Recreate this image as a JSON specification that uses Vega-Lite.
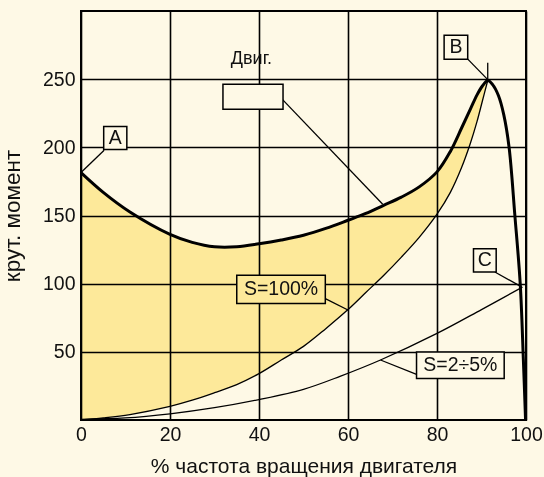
{
  "$schema": "https://vega.github.io/schema/vega-lite/v6.json",
  "width": 445,
  "height": 409,
  "autosize": {"type": "none"},
  "padding": {"left": 81, "top": 11, "right": 18, "bottom": 57},
  "background": "#fef9e6",
  "config": {
    "view": {"stroke": "black", "strokeWidth": 2},
    "font": "Liberation Sans",
    "axis": {
      "labelFont": "Liberation Sans",
      "labelFontSize": 19.5,
      "labelColor": "#111111",
      "labelFlush": false,
      "titleFont": "Liberation Sans",
      "titleFontSize": 21,
      "titleFontWeight": "normal",
      "titleColor": "#111111",
      "ticks": false,
      "domain": false,
      "grid": true,
      "gridColor": "#000000",
      "gridWidth": 1.6,
      "gridOpacity": 1
    }
  },
  "datasets": {
    "fill": [
      {"x": 0, "top": 181.5, "bottom": 0},
      {"x": 5, "top": 167, "bottom": 1.5},
      {"x": 11, "top": 152.6, "bottom": 4},
      {"x": 20, "top": 136.2, "bottom": 10},
      {"x": 25, "top": 130.3, "bottom": 14.5},
      {"x": 30, "top": 127, "bottom": 20},
      {"x": 35, "top": 127, "bottom": 26},
      {"x": 40, "top": 129.2, "bottom": 34},
      {"x": 45, "top": 132, "bottom": 44},
      {"x": 50, "top": 135.5, "bottom": 54},
      {"x": 55, "top": 140.5, "bottom": 67},
      {"x": 60, "top": 146.5, "bottom": 81},
      {"x": 64, "top": 151.5, "bottom": 93.5},
      {"x": 68, "top": 157.5, "bottom": 106},
      {"x": 72, "top": 163.5, "bottom": 119.5},
      {"x": 76, "top": 171, "bottom": 134},
      {"x": 80, "top": 182, "bottom": 151},
      {"x": 83, "top": 197, "bottom": 167},
      {"x": 85.5, "top": 214, "bottom": 185},
      {"x": 87.5, "top": 228, "bottom": 203},
      {"x": 89, "top": 238.5, "bottom": 219},
      {"x": 90.2, "top": 245, "bottom": 234},
      {"x": 91.4, "top": 249, "bottom": 249}
    ],
    "motor": [
      {"x": 0, "y": 181.5},
      {"x": 5, "y": 167},
      {"x": 11, "y": 152.6},
      {"x": 20, "y": 136.2},
      {"x": 25, "y": 130.3},
      {"x": 30, "y": 127},
      {"x": 35, "y": 127},
      {"x": 40, "y": 129.2},
      {"x": 45, "y": 132},
      {"x": 50, "y": 135.5},
      {"x": 55, "y": 140.5},
      {"x": 60, "y": 146.5},
      {"x": 64, "y": 151.5},
      {"x": 68, "y": 157.5},
      {"x": 72, "y": 163.5},
      {"x": 76, "y": 171},
      {"x": 80, "y": 182},
      {"x": 83, "y": 197},
      {"x": 85.5, "y": 214},
      {"x": 87.5, "y": 228},
      {"x": 89, "y": 238.5},
      {"x": 90.2, "y": 245},
      {"x": 91.4, "y": 249},
      {"x": 92.5, "y": 246},
      {"x": 93.8, "y": 238},
      {"x": 95, "y": 224},
      {"x": 96.2, "y": 200},
      {"x": 97.5, "y": 150},
      {"x": 98.7, "y": 100},
      {"x": 99.4, "y": 45},
      {"x": 99.9, "y": 0}
    ],
    "slip": [
      {"x": 0, "y": 0.5},
      {"x": 10, "y": 1.5},
      {"x": 20, "y": 4.5},
      {"x": 30, "y": 9},
      {"x": 40, "y": 15},
      {"x": 50, "y": 22.5},
      {"x": 58.2, "y": 32},
      {"x": 67.3, "y": 44},
      {"x": 80, "y": 63.5},
      {"x": 90, "y": 81},
      {"x": 99.2, "y": 97.5}
    ],
    "boxes": [
      {"x1": 5.1, "x2": 10.3, "y1": 198.5, "y2": 215.2, "kind": "plain"},
      {"x1": 81.6, "x2": 86.9, "y1": 264.6, "y2": 282.2, "kind": "plain"},
      {"x1": 88.2, "x2": 93.3, "y1": 108.6, "y2": 125.7, "kind": "plain"},
      {"x1": 31.9, "x2": 45.4, "y1": 227.9, "y2": 246.2, "kind": "plain"},
      {"x1": 75.4, "x2": 95.1, "y1": 30.4, "y2": 49.9, "kind": "plain"},
      {"x1": 35, "x2": 54.9, "y1": 85.4, "y2": 106.1, "kind": "yellow"}
    ],
    "labels": [
      {"x": 7.7, "y": 206.9, "text": "A", "size": "big"},
      {"x": 84.25, "y": 273.4, "text": "B", "size": "big"},
      {"x": 90.75, "y": 117.2, "text": "C", "size": "big"},
      {"x": 44.95, "y": 95.75, "text": "S=100%", "size": "big"},
      {"x": 85.25, "y": 40.15, "text": "S=2÷5%", "size": "big"},
      {"x": 38.3, "y": 265, "text": "Двиг.", "size": "small"}
    ],
    "leaders": [
      {"x1": 5.2, "y1": 197.8, "x2": 0, "y2": 181.5},
      {"x1": 86.8, "y1": 265.1, "x2": 91.3, "y2": 250},
      {"x1": 91.4, "y1": 250, "x2": 91.4, "y2": 262},
      {"x1": 93.0, "y1": 108.6, "x2": 99.0, "y2": 97.6},
      {"x1": 45.3, "y1": 235.0, "x2": 67.8, "y2": 158.2},
      {"x1": 54.9, "y1": 89.0, "x2": 60.1, "y2": 80.5},
      {"x1": 75.4, "y1": 33.5, "x2": 67.3, "y2": 44}
    ]
  },
  "layer": [
    {
      "data": {"name": "fill"},
      "mark": {"type": "area", "fill": "#feefab", "blend": "multiply", "interpolate": "catmull-rom"},
      "encoding": {
        "x": {
          "field": "x", "type": "quantitative",
          "scale": {"domain": [0, 100], "nice": false},
          "axis": {"values": [0, 20, 40, 60, 80, 100], "title": "% частота вращения двигателя", "labelPadding": 5, "titlePadding": 12}
        },
        "y": {
          "field": "top", "type": "quantitative",
          "scale": {"domain": [0, 300], "nice": false},
          "axis": {"values": [50, 100, 150, 200, 250], "title": "крут. момент", "titleFontSize": 22.5, "labelPadding": 6, "titlePadding": 18}
        },
        "y2": {"field": "bottom"}
      }
    },
    {
      "data": {"name": "fill"},
      "mark": {"type": "line", "color": "#000000", "strokeWidth": 1.3, "interpolate": "catmull-rom"},
      "encoding": {
        "x": {"field": "x", "type": "quantitative"},
        "y": {"field": "bottom", "type": "quantitative"}
      }
    },
    {
      "data": {"name": "slip"},
      "mark": {"type": "line", "color": "#000000", "strokeWidth": 1.3, "interpolate": "catmull-rom"},
      "encoding": {
        "x": {"field": "x", "type": "quantitative"},
        "y": {"field": "y", "type": "quantitative"}
      }
    },
    {
      "data": {"name": "leaders"},
      "mark": {"type": "rule", "color": "#000000", "strokeWidth": 1.3},
      "encoding": {
        "x": {"field": "x1", "type": "quantitative"},
        "y": {"field": "y1", "type": "quantitative"},
        "x2": {"field": "x2"},
        "y2": {"field": "y2"}
      }
    },
    {
      "data": {"name": "motor"},
      "mark": {"type": "line", "color": "#000000", "strokeWidth": 3, "interpolate": "catmull-rom"},
      "encoding": {
        "x": {"field": "x", "type": "quantitative"},
        "y": {"field": "y", "type": "quantitative"}
      }
    },
    {
      "data": {"name": "boxes"},
      "mark": {"type": "rect", "stroke": "#000000", "strokeWidth": 1.5},
      "encoding": {
        "x": {"field": "x1", "type": "quantitative"},
        "x2": {"field": "x2"},
        "y": {"field": "y1", "type": "quantitative"},
        "y2": {"field": "y2"},
        "fill": {
          "field": "kind", "type": "nominal",
          "scale": {"domain": ["plain", "yellow"], "range": ["#fef9e6", "#fde99a"]},
          "legend": null
        },
        "fillOpacity": {"value": 1}
      }
    },
    {
      "data": {"name": "labels"},
      "mark": {"type": "text", "font": "Liberation Sans", "color": "#111111", "align": "center", "baseline": "middle"},
      "encoding": {
        "x": {"field": "x", "type": "quantitative"},
        "y": {"field": "y", "type": "quantitative"},
        "text": {"field": "text"},
        "size": {
          "field": "size", "type": "nominal",
          "scale": {"domain": ["big", "small"], "range": [19.5, 18]},
          "legend": null
        }
      }
    }
  ]
}
